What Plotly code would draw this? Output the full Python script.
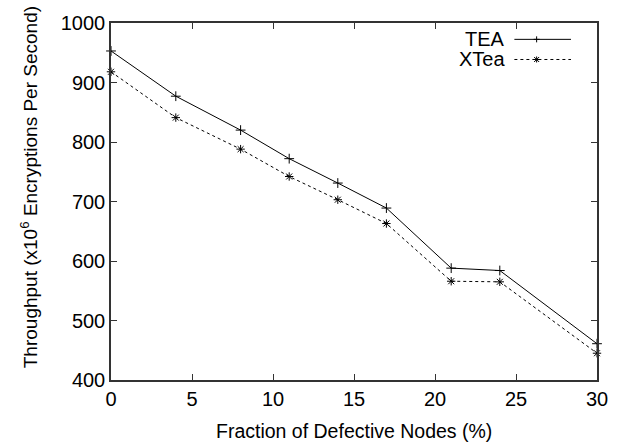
import plotly.graph_objects as go

# Data
fraction = [0, 4, 8, 11, 14, 17, 21, 24, 30]
tea = [953, 877, 820, 772, 731, 689, 588, 584, 461]
xtea = [918, 841, 788, 742, 703, 663, 566, 565, 445]
series_names = ["TEA", "XTea"]
x_ticks = [0, 5, 10, 15, 20, 25, 30]
y_ticks = [400, 500, 600, 700, 800, 900, 1000]

FONT = "Liberation Sans, Arial, Helvetica, sans-serif"
FS = 20
FT = 19.5
INK = "#000000"
AXC = "#333333"

fig = go.Figure()
fig.add_trace(go.Scatter(
    x=fraction, y=tea, name=series_names[0], mode="lines+markers",
    line=dict(color=INK, width=1),
    marker=dict(symbol="cross-thin-open", size=7, line=dict(color=INK, width=1)),
    cliponaxis=False, showlegend=False))
fig.add_trace(go.Scatter(
    x=fraction, y=xtea, name=series_names[1], mode="lines+markers",
    line=dict(color=INK, width=1, dash="3px,3px"),
    marker=dict(symbol="asterisk-open", size=7, line=dict(color=INK, width=1)),
    cliponaxis=False, showlegend=False))

axis_common = dict(
    showline=True, linecolor=AXC, linewidth=1.5, mirror="ticks",
    ticks="inside", ticklen=6, tickwidth=1, tickcolor=AXC,
    showgrid=False, zeroline=False,
    tickfont=dict(family=FONT, size=FS, color=INK),
)
fig.update_xaxes(range=[0, 30], tickvals=x_ticks, ticktext=[str(v) for v in x_ticks],
                 **axis_common)
fig.update_yaxes(range=[400, 1000], tickvals=y_ticks, ticktext=[str(v) for v in y_ticks],
                 **axis_common)

annotations = [
    dict(text="Fraction of Defective Nodes (%)", xref="paper", yref="paper",
         x=0.5, y=-0.1425, xanchor="center", yanchor="middle", showarrow=False,
         font=dict(family=FONT, size=FT, color=INK)),
    dict(text="Throughput (x10<sup>6</sup> Encryptions Per Second)", xref="paper", yref="paper",
         x=-0.1687, y=0.54, xanchor="center", yanchor="middle", showarrow=False,
         textangle=-90, font=dict(family=FONT, size=19, color=INK)),
]

# Gnuplot-style legend (text left of sample)
leg_rows = [(series_names[0], 0.9542, "solid", "plus"),
            (series_names[1], 0.8978, "3px,3px", "star")]
lx0, lx1, lmid, ltext = 0.830, 0.9465, 0.8758, 0.8157
shapes = []
for name, yy, dash, mk in leg_rows:
    annotations.append(dict(text=name, xref="paper", yref="paper", x=ltext, y=yy,
                            xanchor="right", yanchor="middle", showarrow=False,
                            font=dict(family=FONT, size=FS, color=INK)))
    shapes.append(dict(type="line", xref="paper", yref="paper", x0=lx0, x1=lx1, y0=yy, y1=yy,
                       line=dict(color=INK, width=1, dash=dash)))
    segs = [(-3, 0, 3, 0), (0, -3, 0, 3)]
    if mk == "star":
        segs += [(-2.5, -2.5, 2.5, 2.5), (-2.5, 2.5, 2.5, -2.5)]
    for a, b, c, d in segs:
        shapes.append(dict(type="line", xref="paper", yref="paper",
                           xsizemode="pixel", ysizemode="pixel",
                           xanchor=lmid, yanchor=yy, x0=a, y0=b, x1=c, y1=d,
                           line=dict(color=INK, width=1)))

fig.update_layout(
    width=620, height=447,
    margin=dict(l=111, r=17, t=15, b=67),
    paper_bgcolor="white", plot_bgcolor="white",
    font=dict(family=FONT, size=FS, color=INK),
    annotations=annotations, shapes=shapes,
)

fig.write_html("out.html")
